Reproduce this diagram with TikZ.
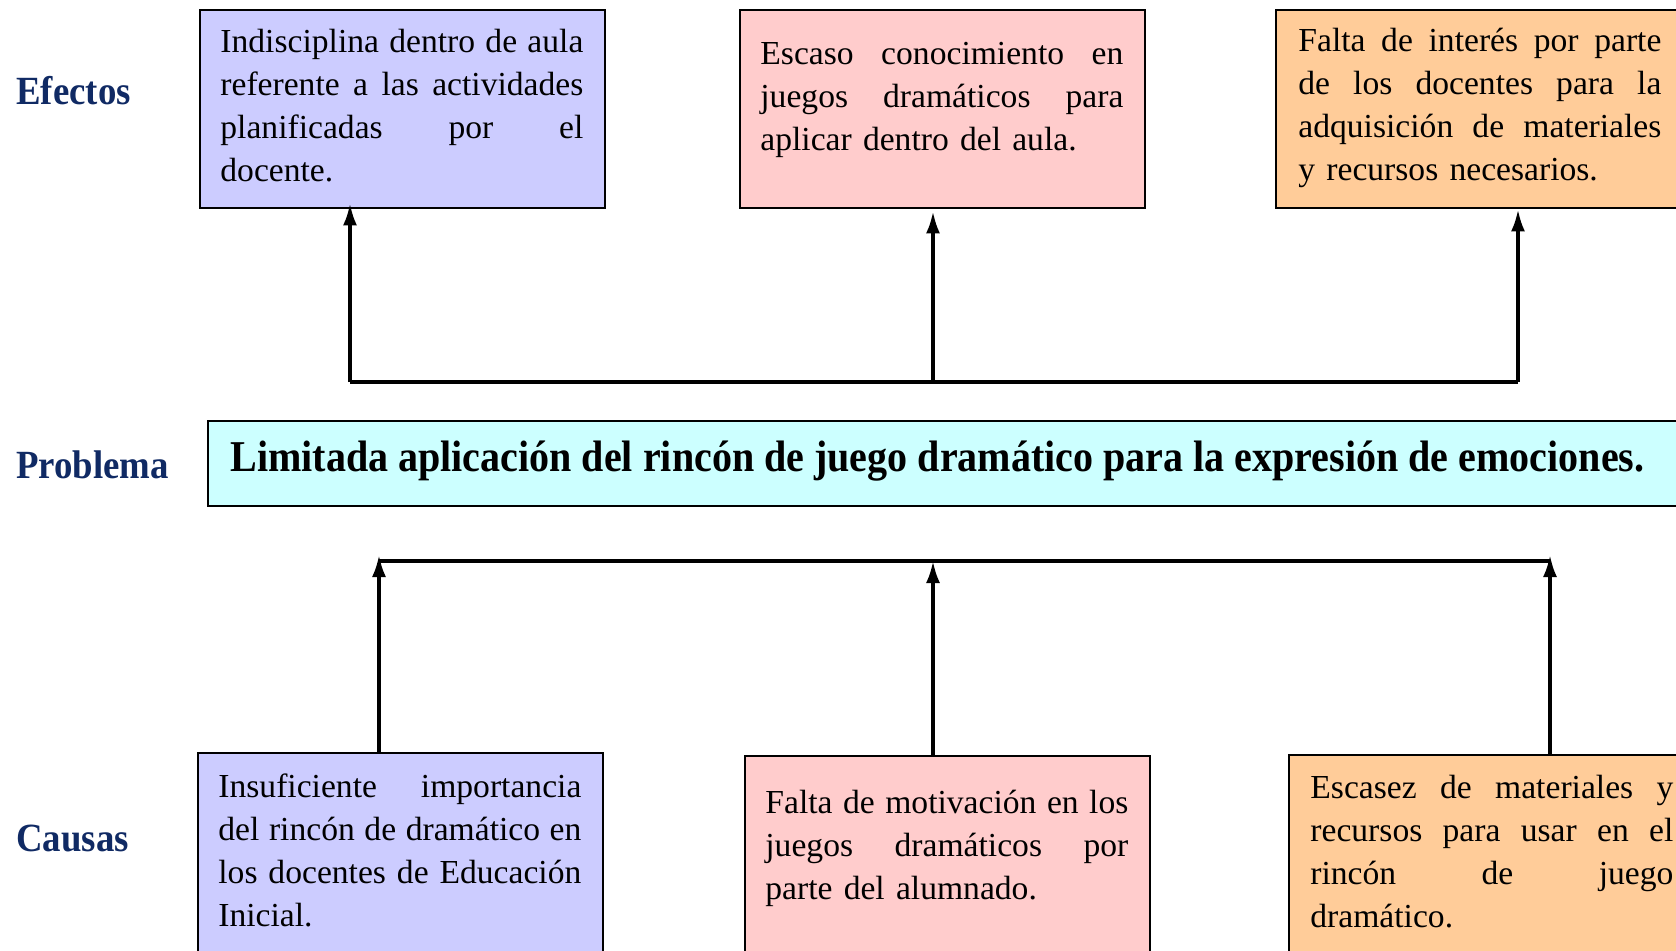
\documentclass[tikz,border=0pt]{standalone}
\usepackage{fontspec}
\usepackage{graphicx}
\setmainfont{Liberation Serif}
\usetikzlibrary{arrows.meta}
\definecolor{lav}{HTML}{CCCCFF}
\definecolor{pnk}{HTML}{FFCCCC}
\definecolor{pch}{HTML}{FFCC99}
\definecolor{cyn}{HTML}{CCFFFF}
\definecolor{navyc}{RGB}{16,42,100}
\newcommand{\jl}[1]{\leavevmode\hbox to 181.5pt{\spaceskip=\fontdimen2\font plus 1fil minus \fontdimen4\font\relax #1}}
\begin{document}
\begin{tikzpicture}[x=0.5pt,y=-0.5pt,
  box/.style={draw=black, line width=1.2pt, minimum width=202.5pt, inner sep=0pt, anchor=north west},
  txt/.style={anchor=base west, text width=181.5pt, align=left, inner sep=0pt, font=\fontsize{16.8}{21.5}\selectfont},
  lbl/.style={anchor=base west, inner sep=0pt, text=navyc, font=\fontsize{20}{24}\selectfont\bfseries},
  conn/.style={line width=1.7pt, -{Latex[length=11pt,width=7pt]}},
  bar/.style={line width=2.4pt}]
\useasboundingbox (0,0) rectangle (1676,950);
\begin{scope}
\clip (0,0) rectangle (1676,950);
% effect boxes
\node[box, fill=lav, minimum height=99pt] (e1) at (199,9) {};
\node[box, fill=pnk, minimum height=99pt] (e2) at (739,9) {};
\node[box, fill=pch, minimum height=99pt] (e3) at (1275,9) {};
% problem
\node[box, fill=cyn, minimum width=740pt, minimum height=42.5pt] (p) at (207,420) {};
% cause boxes
\node[box, fill=lav, minimum height=110pt] (c1) at (197,752) {};
\node[box, fill=pnk, minimum height=110pt] (c2) at (744,755) {};
\node[box, fill=pch, minimum height=110pt] (c3) at (1288,754) {};

% texts
\node[txt] (e1t) at (220,52) {\jl{Indisciplina dentro de aula}\\\jl{referente a las actividades}\\\jl{planificadas por el}\\docente.};
\node[txt] (e2t) at (760,64) {\jl{Escaso conocimiento en}\\\jl{juegos dramáticos para}\\aplicar dentro del aula.};
\node[txt] (e3t) at (1298,51) {\jl{Falta de interés por parte}\\\jl{de los docentes para la}\\\jl{adquisición de materiales}\\y recursos necesarios.};
\node[txt] (c1t) at (218,797) {\jl{Insuficiente importancia}\\\jl{del rincón de dramático en}\\\jl{los docentes de Educación}\\Inicial.};
\node[txt] (c2t) at (765,813) {\jl{Falta de motivación en los}\\\jl{juegos dramáticos por}\\parte del alumnado.};
\node[txt] (c3t) at (1310,798) {\jl{Escasez de materiales y}\\\jl{recursos para usar en el}\\\jl{rincón de juego}\\dramático.};
\node[anchor=base west, inner sep=0pt] (pt) at (230,471) {\scalebox{0.91}[1]{\fontsize{22}{26}\selectfont\bfseries Limitada aplicación del rincón de juego dramático para la expresión de emociones.}};

% labels
\node[lbl] (le) at (16,104) {\scalebox{0.92}[1]{Efectos}};
\node[lbl] (lp) at (16,478) {\scalebox{0.92}[1]{Problema}};
\node[lbl] (lc) at (16,851) {\scalebox{0.92}[1]{Causas}};

% top connectors
\coordinate (t1) at (350,382);
\coordinate (t2) at (933,382);
\coordinate (t3) at (1518,382);
\draw[bar] (t1) -- (t3);
\draw[conn] (t1) -- ([yshift=3pt]t1 |- e1.south);
\draw[conn] (t2) -- ([yshift=-1pt]t2 |- e2.south);
\draw[conn] (t3) -- (t3 |- e3.south);

% bottom connectors
\coordinate (b1) at (379,561);
\coordinate (b2) at (933,561);
\coordinate (b3) at (1550,561);
\draw[bar] (b1) -- (b3);
\draw[conn] (b1 |- c1.north) -- ([yshift=3pt]b1);
\draw[conn] (b2 |- c2.north) -- (b2);
\draw[conn] (b3 |- c3.north) -- ([yshift=3pt]b3);
\end{scope}
\end{tikzpicture}
\end{document}
